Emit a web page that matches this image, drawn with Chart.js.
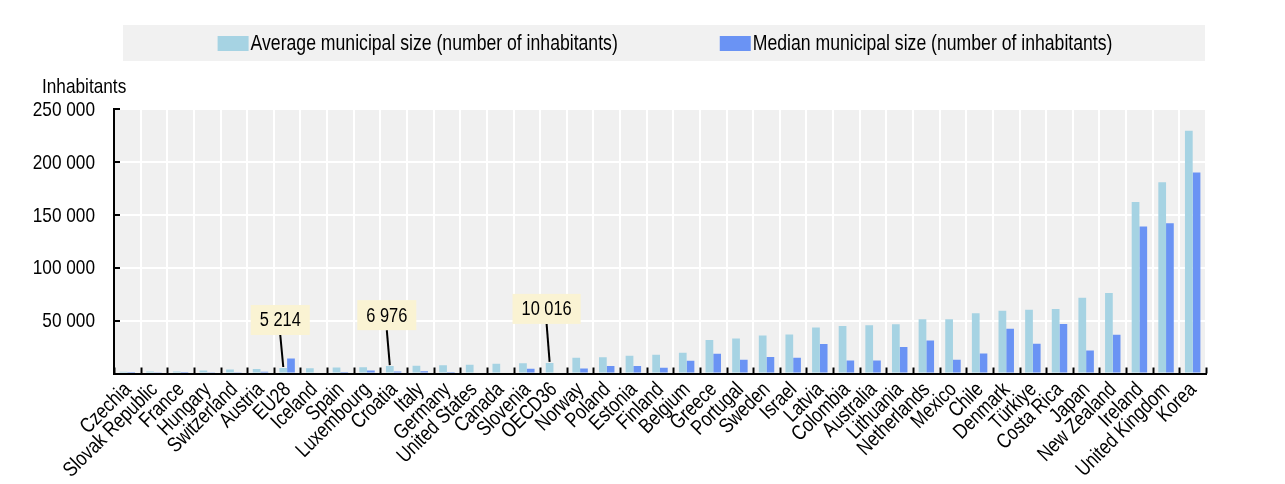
<!DOCTYPE html>
<html>
<head>
<meta charset="utf-8">
<script src="https://cdn.jsdelivr.net/npm/chart.js@4.4.1/dist/chart.umd.min.js"></script>
<style>
html, body { margin: 0; padding: 0; background: #ffffff; }
#wrap { width: 1285px; height: 484px; }
</style>
</head>
<body>
<div id="wrap"><canvas id="c" width="1285" height="484"></canvas></div>
<script>
const categories = ['Czechia','Slovak Republic','France','Hungary','Switzerland','Austria','EU28','Iceland','Spain','Luxembourg','Croatia','Italy','Germany','United States','Canada','Slovenia','OECD36','Norway','Poland','Estonia','Finland','Belgium','Greece','Portugal','Sweden','Israel','Latvia','Colombia','Australia','Lithuania','Netherlands','Mexico','Chile','Denmark','Türkiye','Costa Rica','Japan','New Zealand','Ireland','United Kingdom','Korea'];
const averageSize = [1700,1850,1900,2900,3800,4200,5214,5000,5700,5900,6976,7400,7700,8300,9200,9600,10016,15000,15400,16700,17700,19500,31700,33000,35900,36800,43500,44800,45500,46500,51200,51200,56900,59300,60200,60900,71500,76000,162000,180700,229500];
const medianSize = [400,650,450,800,1200,1700,14200,1000,550,2800,2000,2200,1400,null,null,4400,null,4800,7200,7000,5400,12100,18600,13100,15700,15000,27900,12300,12300,25100,31300,13000,18800,42400,28200,46800,21800,36700,139000,142100,189900];
const seriesLabels = ['Average municipal size (number of inhabitants)','Median municipal size (number of inhabitants)'];
const highlighted = ['EU28','Croatia','OECD36'];
const yTickValues = [50000,100000,150000,200000,250000];
const yAxisLabel = 'Inhabitants';

const FONT = "'Liberation Sans',Arial,sans-serif";
const NARROW = 0.82;   // horizontal glyph compression (Arial Narrow look)
const LIGHT = 'rgb(166,211,227)';
const DARK = 'rgb(106,147,244)';
const CALLOUT_GAP = [33, 36, 39];
const fmt = v => Math.round(v).toString().replace(/\B(?=(\d{3})+(?!\d))/g, ' ');

Chart.defaults.font.family = FONT;
Chart.defaults.color = '#000';

function narrowWidth(ctx, text, size) {
  ctx.save();
  ctx.font = size + 'px ' + FONT;
  const w = ctx.measureText(text).width * NARROW;
  ctx.restore();
  return w;
}
function narrowText(ctx, text, x, y, size, align, baseline, angle) {
  ctx.save();
  ctx.translate(x, y);
  if (angle) ctx.rotate(angle);
  ctx.scale(NARROW, 1);
  ctx.font = size + 'px ' + FONT;
  ctx.fillStyle = '#000';
  ctx.textAlign = align || 'left';
  ctx.textBaseline = baseline || 'alphabetic';
  ctx.fillText(text, 0, 0);
  ctx.restore();
}

const decorPlugin = {
  id: 'decor',
  beforeDraw(chart) {
    const ctx = chart.ctx, a = chart.chartArea;
    ctx.save();
    ctx.fillStyle = '#ffffff';
    ctx.fillRect(0, 0, chart.width, chart.height);
    // legend band
    const bandL = a.left + 9, bandR = a.right - 1, bandT = 25, bandB = 61;
    ctx.fillStyle = '#f1f1f1';
    ctx.fillRect(bandL, bandT, bandR - bandL, bandB - bandT);
    const sw = 31, sh = 15, gapText = 2, gapItems = 102, lsize = 21.5;
    const colors = [LIGHT, DARK];
    const widths = seriesLabels.map(t => narrowWidth(ctx, t, lsize));
    const total = widths.reduce((s, w) => s + sw + gapText + w, 0) + gapItems;
    let x = (bandL + bandR) / 2 - total / 2 + 1;
    const cy = (bandT + bandB) / 2;
    seriesLabels.forEach((t, i) => {
      ctx.fillStyle = colors[i];
      ctx.fillRect(x, cy - sh / 2 + 0.5, sw, sh);
      narrowText(ctx, t, x + sw + gapText, cy + 1, lsize, 'left', 'middle');
      x += sw + gapText + widths[i] + gapItems;
    });
    // y axis label
    narrowText(ctx, yAxisLabel, a.left - 72, 93, 21, 'left', 'alphabetic');
    // plot background
    ctx.fillStyle = '#f0f0f0';
    ctx.fillRect(a.left, a.top, a.right - a.left, a.bottom - a.top);
    ctx.restore();
  },
  afterDatasetsDraw(chart) {
    const ctx = chart.ctx, a = chart.chartArea;
    const xs = chart.scales.x, ys = chart.scales.y;
    ctx.save();
    // inward tick marks
    ctx.strokeStyle = '#000';
    ctx.lineWidth = 2;
    const half = (xs.getPixelForValue(1) - xs.getPixelForValue(0)) / 2;
    for (let i = 0; i <= categories.length; i++) {
      const px = Math.round(xs.getPixelForValue(i) - half) + 0.5;
      ctx.beginPath();
      ctx.moveTo(px, a.bottom);
      ctx.lineTo(px, a.bottom - 6);
      ctx.stroke();
    }
    yTickValues.forEach(v => {
      const py = Math.round(ys.getPixelForValue(v));
      ctx.beginPath();
      ctx.moveTo(a.left, py);
      ctx.lineTo(a.left + 6, py);
      ctx.stroke();
    });
    ctx.restore();
  },
  afterDraw(chart) {
    const ctx = chart.ctx, a = chart.chartArea;
    const xs = chart.scales.x, ys = chart.scales.y;
    // y tick labels
    yTickValues.forEach(v => {
      narrowText(ctx, fmt(v), a.left - 19, ys.getPixelForValue(v) + 1, 21, 'right', 'middle');
    });
    // x tick labels, rotated 45 degrees
    categories.forEach((c, i) => {
      narrowText(ctx, c, xs.getPixelForValue(i) + 0.5, a.bottom + 13, 21, 'right', 'middle', -Math.PI / 4);
    });
    // callouts
    const meta = chart.getDatasetMeta(0);
    ctx.save();
    highlighted.forEach((name, k) => {
      const idx = categories.indexOf(name);
      const bar = meta.data[idx];
      const text = fmt(averageSize[idx]);
      const tw = narrowWidth(ctx, text, 20);
      const bw = tw + 18, bh = 30;
      const bx = bar.x - 3;
      const bottom = bar.y - CALLOUT_GAP[k];
      ctx.strokeStyle = '#000';
      ctx.lineWidth = 2;
      ctx.beginPath();
      ctx.moveTo(bx, bottom);
      ctx.lineTo(bar.x, bar.y - 1);
      ctx.stroke();
      ctx.fillStyle = '#faf3d3';
      ctx.fillRect(bx - bw / 2, bottom - bh, bw, bh);
      narrowText(ctx, text, bx, bottom - bh / 2 + 1, 20, 'center', 'middle');
    });
    ctx.restore();
  }
};

new Chart(document.getElementById('c'), {
  type: 'bar',
  data: {
    labels: categories,
    datasets: [
      { label: seriesLabels[0], data: averageSize, backgroundColor: LIGHT, borderWidth: 0, categoryPercentage: 0.58, barPercentage: 1.0 },
      { label: seriesLabels[1], data: medianSize, backgroundColor: DARK, borderWidth: 0, categoryPercentage: 0.58, barPercentage: 1.0 }
    ]
  },
  options: {
    responsive: false,
    animation: false,
    devicePixelRatio: 1,
    layout: { padding: { top: 109, right: 79, bottom: 0, left: 0 } },
    plugins: { legend: { display: false }, tooltip: { enabled: false } },
    scales: {
      x: {
        offset: true,
        grid: { color: '#ffffff', lineWidth: 2, drawTicks: false, offset: true },
        border: { color: '#000', width: 2 },
        ticks: { display: false, autoSkip: false },
        afterFit: s => { s.height = 110.5; }
      },
      y: {
        min: 0,
        max: 250000,
        afterBuildTicks: s => { s.ticks = [0].concat(yTickValues).map(v => ({ value: v })); },
        grid: { color: '#ffffff', lineWidth: 2, drawTicks: false },
        border: { color: '#000', width: 2 },
        ticks: { display: false },
        afterFit: s => { s.width = 114; }
      }
    }
  },
  plugins: [decorPlugin]
});
</script>
</body>
</html>
